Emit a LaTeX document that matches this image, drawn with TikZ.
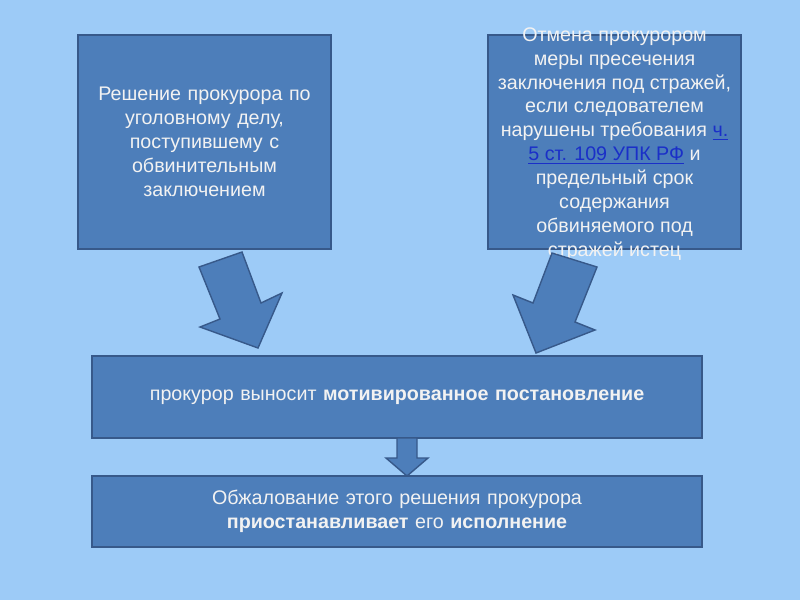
\documentclass[tikz,border=0pt]{standalone}
\usepackage{fontspec}
\setmainfont{Liberation Sans}
\usepackage{tikz}
\usetikzlibrary{positioning}
\definecolor{slidebg}{HTML}{9DCBF7}
\definecolor{boxfill}{HTML}{4D7EBA}
\definecolor{boxline}{HTML}{37598A}
\definecolor{boxtext}{HTML}{F2F2F2}
\definecolor{linkblue}{HTML}{1A2FC8}

\begin{document}
\begin{tikzpicture}[
    x=0.025cm, y=-0.025cm,
    every node/.style={font=\fontsize{14}{17}\selectfont, text=boxtext},
    box/.style={rectangle, draw=boxline, fill=boxfill, line width=1pt, align=center, inner sep=0pt},
    bigbox/.style={box, minimum width=6.325cm, minimum height=5.35cm, text width=6cm},
    widebox/.style={box, minimum width=15.25cm, text width=15cm},
    blockarrow/.style={draw=boxline, fill=boxfill, line width=1pt, line join=miter}
]

% background and page size
\fill[slidebg] (0,0) rectangle (800,600);
\useasboundingbox (0,0) rectangle (800,600);

% upper boxes
\node[bigbox] (reshenie) at (204.5,142) {Решение прокурора по\\уголовному делу,\\поступившему с\\обвинительным\\заключением};
\node[bigbox] (otmena) at (614.5,142) {};
\node[align=center, inner sep=0pt] (otmenatext) at (614.5,144)
  {Отмена прокурором\\меры пресечения\\заключения под стражей,\\если следователем\\нарушены требования \textcolor{linkblue}{\underline{ч.}}\\\textcolor{linkblue}{\underline{5 ст. 109 УПК РФ}} и\\предельный срок\\содержания\\обвиняемого под\\стражей истец};

% lower boxes
\node[widebox, minimum height=2.05cm] (postanovlenie) at (397,397) {прокурор выносит \textbf{мотивированное постановление}};
\node[widebox, minimum height=1.775cm] (obzhalovanie) at (397,511.5) {Обжалование этого решения прокурора\\\textbf{приостанавливает} его \textbf{исполнение}};

% block arrows
\draw[blockarrow] (199,267) -- (242,252) -- (261,303) -- (282,293) -- (258,348) -- (200,327) -- (220,319) -- cycle;
\draw[blockarrow] (552,253) -- (597,267) -- (575,322) -- (595,330) -- (536,353) -- (513,295) -- (533,303) -- cycle;
\draw[blockarrow] (397,438) -- (417,438) -- (417,458) -- (428,458) -- (407,476) -- (386,458) -- (397,458) -- cycle;

\end{tikzpicture}
\end{document}
